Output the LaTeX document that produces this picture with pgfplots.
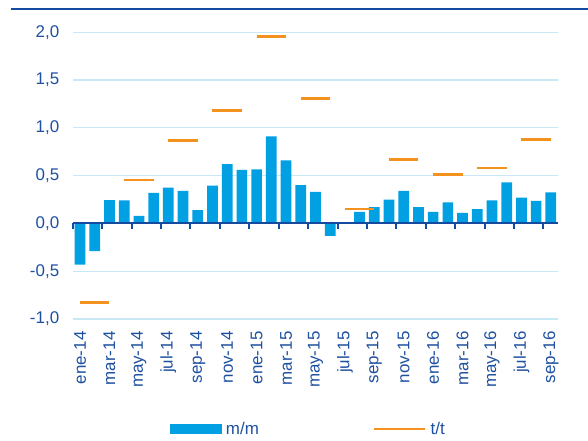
\documentclass[border=0pt]{standalone}
\usepackage{pgfplots}
\pgfplotsset{compat=1.18}
\usepackage{fontspec}
\setmainfont{Liberation Sans}
\definecolor{barblue}{RGB}{0,160,227}
\definecolor{dashorange}{RGB}{243,146,30}
\definecolor{txtblue}{RGB}{30,80,160}
\definecolor{axblue}{RGB}{20,75,160}
\definecolor{gridblue}{RGB}{200,232,246}
\begin{document}
\begin{tikzpicture}
\path[use as bounding box] (-72.7bp,-122bp) rectangle (515.3bp,319bp);
\draw[axblue, line width=2bp] (-61.7bp,310bp) -- (515.3bp,310bp);
\begin{axis}[
  at={(0,0)}, anchor=south west,
  scale only axis, width=485.5bp, height=286.7bp,
  xmin=-0.5, xmax=32.5, ymin=-1, ymax=2,
  xtick={0,2,...,32},
  xticklabels={ene-14,mar-14,may-14,jul-14,sep-14,nov-14,ene-15,mar-15,may-15,jul-15,sep-15,nov-15,ene-16,mar-16,may-16,jul-16,sep-16},
  ytick={-1,-0.5,0,0.5,1,1.5,2},
  /pgf/number format/use comma,
  /pgf/number format/fixed,
  /pgf/number format/fixed zerofill,
  /pgf/number format/precision=1,
  /pgf/number format/assume math mode=true,
  ymajorgrids, grid style={gridblue, line width=1.2bp},
  axis line style={draw=none}, tick style={draw=none},
  tick label style={font=\fontsize{17}{20}\selectfont, text=txtblue},
  xticklabel style={rotate=90, anchor=east, xshift=-9bp},
  yticklabel style={xshift=-10bp},
  bar width=10.7bp,
  legend columns=2,
  legend style={draw=none, fill=none, inner sep=0pt, at={(0.2,-0.384)}, anchor=west,
    font=\fontsize{17}{20}\selectfont, text=txtblue,
    nodes={inner xsep=4bp},
    /tikz/every even column/.append style={column sep=110bp}},
  clip=false,
]
\addplot[ybar, fill=barblue, draw=none,
  legend image code/.code={\fill[barblue] (0bp,-5bp) rectangle (52bp,5bp);}]
coordinates {
(0,-0.43) (1,-0.29) (2,0.245) (3,0.24) (4,0.08) (5,0.32) (6,0.375) (7,0.34) (8,0.14)
(9,0.395) (10,0.62) (11,0.56) (12,0.565) (13,0.91) (14,0.66) (15,0.40) (16,0.33)
(17,-0.13) (18,0.0) (19,0.12) (20,0.17) (21,0.25) (22,0.34) (23,0.17) (24,0.12)
(25,0.22) (26,0.11) (27,0.15) (28,0.24) (29,0.43) (30,0.27) (31,0.235) (32,0.325)
};
\addlegendentry{m/m}
\addplot[dashorange, line width=2.8bp, unbounded coords=jump,
  legend image code/.code={\draw[dashorange, line width=2.8bp] (0bp,0bp) -- (51bp,0bp);}]
coordinates {
(0,-0.83) (2,-0.83) (2.5,nan)
(3,0.455) (5,0.455) (5.5,nan)
(6,0.87) (8,0.87) (8.5,nan)
(9,1.185) (11,1.185) (11.5,nan)
(12,1.96) (14,1.96) (14.5,nan)
(15,1.31) (17,1.31) (17.5,nan)
(18,0.15) (20,0.15) (20.5,nan)
(21,0.67) (23,0.67) (23.5,nan)
(24,0.515) (26,0.515) (26.5,nan)
(27,0.58) (29,0.58) (29.5,nan)
(30,0.88) (32,0.88)
};
\addlegendentry{t/t}
\draw[axblue, line width=2bp] (axis cs:-0.5,0) -- (axis cs:32.5,0);
\pgfplotsinvokeforeach{-0.5,1.5,...,31.5}{
  \draw[axblue, line width=2bp] (axis cs:#1,0) -- ([yshift=-6bp]axis cs:#1,0);
}
\end{axis}
\end{tikzpicture}
\end{document}
